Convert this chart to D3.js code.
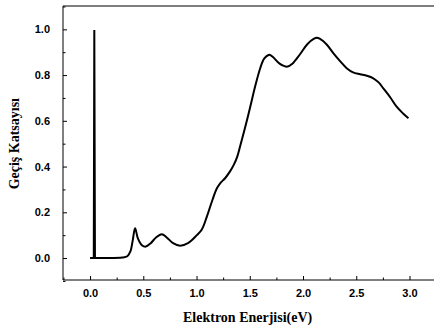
<!DOCTYPE html>
<html>
<head>
<meta charset="utf-8">
<script src="https://cdn.jsdelivr.net/npm/d3@7"></script>
<style>
  body { margin: 0; background: #fff; }
</style>
</head>
<body>
<div id="chart"></div>
<script>
// Electron energy (eV) and transmission coefficient
const energy = [0.0, 0.035, 0.040, 0.046, 0.10, 0.20, 0.30, 0.35, 0.38, 0.40, 0.423, 0.45, 0.49, 0.523, 0.57, 0.62, 0.674, 0.72, 0.78, 0.846, 0.92, 1.003, 1.05, 1.097, 1.15, 1.191, 1.222, 1.27, 1.316, 1.347, 1.38, 1.41, 1.45, 1.504, 1.55, 1.598, 1.635, 1.676, 1.691, 1.72, 1.78, 1.854, 1.90, 1.97, 2.04, 2.10, 2.13, 2.16, 2.22, 2.286, 2.35, 2.41, 2.47, 2.537, 2.60, 2.66, 2.71, 2.754, 2.82, 2.879, 2.94, 2.99];
const transmission = [0.0, 0.0, 0.997, 0.0, 0.0, 0.0, 0.002, 0.008, 0.03, 0.075, 0.130, 0.085, 0.055, 0.050, 0.065, 0.090, 0.104, 0.090, 0.065, 0.054, 0.065, 0.100, 0.125, 0.181, 0.255, 0.305, 0.327, 0.350, 0.380, 0.405, 0.440, 0.490, 0.560, 0.660, 0.750, 0.830, 0.872, 0.888, 0.888, 0.878, 0.850, 0.837, 0.850, 0.890, 0.935, 0.958, 0.963, 0.958, 0.935, 0.895, 0.860, 0.830, 0.812, 0.804, 0.797, 0.786, 0.768, 0.742, 0.702, 0.662, 0.632, 0.611];

const xTicks = [0.0, 0.5, 1.0, 1.5, 2.0, 2.5, 3.0];
const yTicks = [0.0, 0.2, 0.4, 0.6, 0.8, 1.0];
const xMinor = [-0.25, 0.25, 0.75, 1.25, 1.75, 2.25, 2.75, 3.25];
const yMinor = [-0.1, 0.1, 0.3, 0.5, 0.7, 0.9, 1.1];

const data = energy.map((e, i) => ({ e: e, t: transmission[i] }));
// the narrow resonance spike is drawn straight, the rest as a smooth curve
const spike = data.slice(0, 5);
const smooth = data.slice(3);

const W = 434, H = 329;
const margin = { top: 6, right: 0, bottom: 49, left: 63 };
const width = W - margin.left - margin.right;
const height = H - margin.top - margin.bottom;

const svg = d3.select("#chart")
    .append("svg")
    .attr("width", W)
    .attr("height", H);

const g = svg.append("g")
    .attr("transform", `translate(${margin.left},${margin.top})`);

const x = d3.scaleLinear().domain([-0.254, 3.23]).range([0, width]);
const y = d3.scaleLinear().domain([-0.096, 1.102]).range([height, 0]);

// minor ticks
g.append("g")
    .attr("transform", `translate(0,${height})`)
    .call(d3.axisBottom(x).tickValues(xMinor).tickSize(-2.5).tickFormat(""))
    .call(a => a.select(".domain").remove());
g.append("g")
    .call(d3.axisLeft(y).tickValues(yMinor).tickSize(-2.5).tickFormat(""))
    .call(a => a.select(".domain").remove());

// major axes, ticks pointing inward
g.append("g")
    .attr("class", "x axis")
    .attr("transform", `translate(0,${height})`)
    .call(d3.axisBottom(x).tickValues(xTicks).tickSize(-4).tickPadding(9).tickFormat(d3.format(".1f")))
    .call(a => a.select(".domain").attr("d", `M0,0H${width}`));

g.append("g")
    .attr("class", "y axis")
    .call(d3.axisLeft(y).tickValues(yTicks).tickSize(-4).tickPadding(13).tickFormat(d3.format(".1f")))
    .call(a => a.select(".domain").attr("d", `M0,0V${height}`));

g.selectAll(".axis")
    .attr("font-family", "Liberation Sans, Arial, sans-serif")
    .attr("font-size", 11)
    .attr("font-weight", "bold");
g.selectAll(".tick line").attr("stroke", "#000");
g.selectAll(".tick text").attr("fill", "#000");

// top frame line
g.append("line")
    .attr("x1", 0).attr("x2", width)
    .attr("y1", 0).attr("y2", 0)
    .attr("stroke", "#000");

g.append("path")
    .datum(spike)
    .attr("fill", "none")
    .attr("stroke", "#000")
    .attr("stroke-width", 2)
    .attr("d", d3.line().x(d => x(d.e)).y(d => y(d.t)));

g.append("path")
    .datum(smooth)
    .attr("fill", "none")
    .attr("stroke", "#000")
    .attr("stroke-width", 2)
    .attr("d", d3.line().x(d => x(d.e)).y(d => y(d.t)).curve(d3.curveCatmullRom.alpha(0.5)));

// axis titles
const titleFont = "Liberation Serif, Times New Roman, serif";
svg.append("text")
    .attr("font-family", titleFont)
    .attr("font-weight", "bold")
    .attr("font-size", 14)
    .attr("x", margin.left + x(1.48))
    .attr("y", 322)
    .attr("text-anchor", "middle")
    .text("Elektron Enerjisi(eV)");

svg.append("text")
    .attr("font-family", titleFont)
    .attr("font-weight", "bold")
    .attr("font-size", 14)
    .attr("transform", `translate(19,${margin.top + y(0.5)}) rotate(-90)`)
    .attr("text-anchor", "middle")
    .text("Geçiş Katsayısı");
</script>
</body>
</html>
